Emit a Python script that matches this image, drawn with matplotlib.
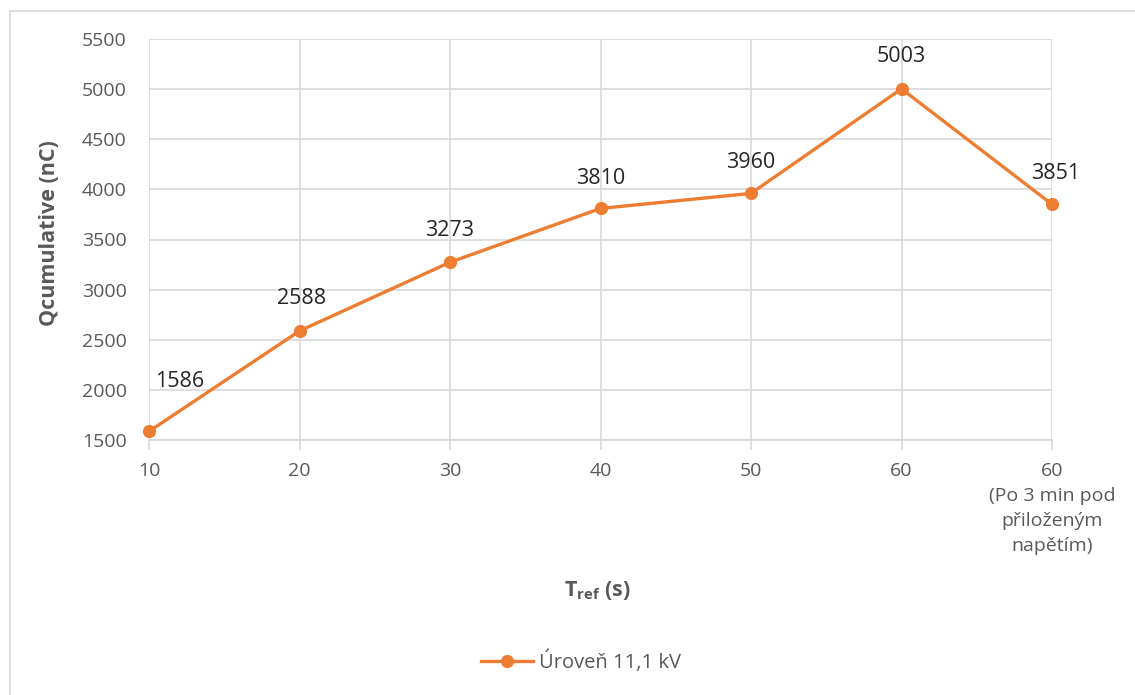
import matplotlib
matplotlib.use("Agg")
import matplotlib.pyplot as plt
from matplotlib.patches import Rectangle
from matplotlib.lines import Line2D

# Data
categories = ["10", "20", "30", "40", "50", "60",
              "60\n(Po 3 min pod\npřiloženým\nnapětím)"]
q_cumulative = [1586, 2588, 3273, 3810, 3960, 5003, 3851]
series_name = "Úroveň 11,1 kV"
y_ticks = [1500, 2000, 2500, 3000, 3500, 4000, 4500, 5000, 5500]

ORANGE = "#ED7D31"
GRID = "#D9D9D9"
TICK_TXT = "#595959"
LABEL_TXT = "#262626"

plt.rcParams["font.family"] = ["Open Sans", "DejaVu Sans"]
plt.rcParams["mathtext.fontset"] = "custom"
plt.rcParams["mathtext.rm"] = "Open Sans"
plt.rcParams["mathtext.bf"] = "Open Sans:bold"

W, H = 1135, 695
fig = plt.figure(figsize=(W / 100, H / 100), dpi=100)
fig.patch.set_facecolor("white")

# chart frame (left and top edges visible)
fig.patches.append(Rectangle((10 / W, -1), 2, 1 + (H - 11) / H, transform=fig.transFigure,
                             fill=False, edgecolor=GRID, linewidth=1.2))

ax = fig.add_axes([149 / W, 1 - 440 / H, (1052 - 149) / W, (440 - 39) / H])
x = list(range(len(categories)))

ax.plot(x, q_cumulative, color=ORANGE, linewidth=2.4, marker="o",
        markersize=8.5, clip_on=False, zorder=5)

ax.set_xlim(0, len(categories) - 1)
ax.set_ylim(1500, 5500)
ax.set_yticks(y_ticks)
ax.set_xticks(x)
ax.set_xticklabels(categories, linespacing=1.5)

ax.grid(True, color=GRID, linewidth=1.2)
ax.set_axisbelow(True)
for side in ["top", "right", "left"]:
    ax.spines[side].set_visible(False)
ax.spines["bottom"].set_color(GRID)
ax.spines["bottom"].set_linewidth(1.2)

ax.tick_params(axis="y", length=0, pad=16, labelsize=14, labelcolor=TICK_TXT)
ax.tick_params(axis="x", length=7, width=1.2, color=GRID, pad=9,
               labelsize=14, labelcolor=TICK_TXT)

# value labels
offsets = [(31, 50), (2, 32), (0, 32), (0, 30), (0, 31), (0, 32), (4, 31)]
for xi, v, (dx, dy) in zip(x, q_cumulative, offsets):
    ax.annotate(f"{v}", (xi, v), xytext=(dx, dy), textcoords="offset pixels",
                ha="center", va="center", fontsize=15.5, color=LABEL_TXT,
                annotation_clip=False)

ax.set_ylabel("Qcumulative (nC)", fontsize=15.5, fontweight="bold", color=TICK_TXT)
ax.yaxis.set_label_coords((60 - 149) / (1052 - 149), (440 - 233) / (440 - 39))
fig.text(597 / W, 1 - 591 / H, r"$\mathbf{T_{ref}}$ $\mathbf{(s)}$",
         fontsize=15.5, color=TICK_TXT, ha="center", va="center")

handle = Line2D([], [], color=ORANGE, linewidth=2.4, marker="o", markersize=8.5)
fig.legend([handle], [series_name], loc="center", bbox_to_anchor=(581 / W, 1 - 662 / H),
           frameon=False, fontsize=14.5, labelcolor=TICK_TXT,
           handlelength=2.6, handletextpad=0.3)

fig.savefig("out.png", dpi=100, facecolor="white")
